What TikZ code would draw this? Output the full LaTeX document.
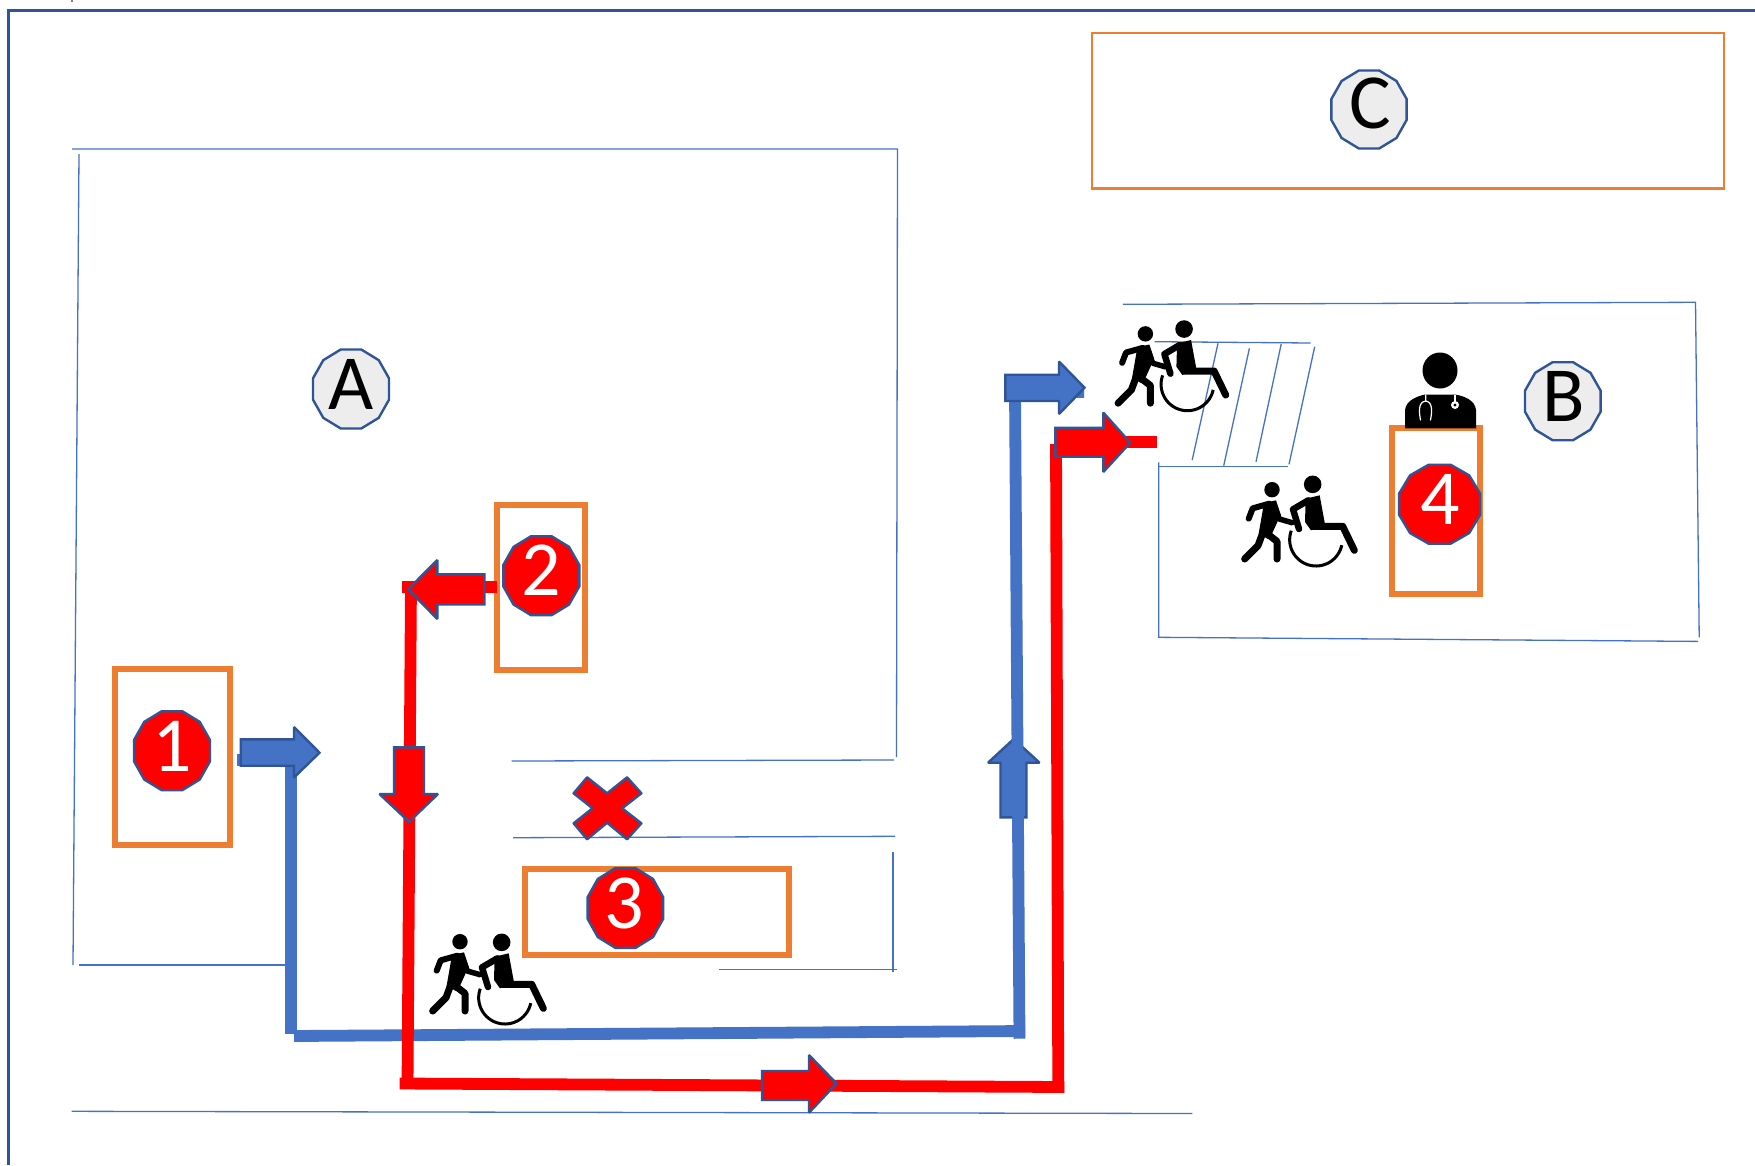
\documentclass[tikz,border=0pt]{standalone}
\usepackage{fontspec}
\setmainfont{Carlito}
\definecolor{lineblue}{HTML}{4472C4}
\definecolor{edgeblue}{HTML}{2F5597}
\definecolor{boxorange}{HTML}{ED7D31}
\definecolor{badgegray}{HTML}{EDEDED}
\definecolor{routered}{HTML}{FF0000}
\newcommand{\badgeshape}[5]{% x y rx ry style
  \draw[#5] ({#1-.27*#3},{#2-#4}) -- ({#1+.27*#3},{#2-#4}) -- ({#1+.73*#3},{#2-.73*#4}) -- ({#1+#3},{#2-.27*#4}) --
  ({#1+#3},{#2+.27*#4}) -- ({#1+.73*#3},{#2+.73*#4}) -- ({#1+.27*#3},{#2+#4}) -- ({#1-.27*#3},{#2+#4}) --
  ({#1-.73*#3},{#2+.73*#4}) -- ({#1-#3},{#2+.27*#4}) -- ({#1-#3},{#2-.27*#4}) -- ({#1-.73*#3},{#2-.73*#4}) -- cycle;}
\tikzset{
  wallline/.style={draw=lineblue,line width=1.3pt},
  frameline/.style={draw=edgeblue,line width=3pt},
  orangebox/.style={draw=boxorange,line width=6pt},
  thinorange/.style={draw=boxorange,line width=2.6pt},
  redroute/.style={draw=routered,line width=11.8pt},
  blueroute/.style={draw=lineblue,line width=11.8pt},
  redarrow/.style={fill=routered,draw=edgeblue,line width=2.4pt,line join=miter,miter limit=2},
  bluearrow/.style={fill=lineblue,draw=edgeblue,line width=2.4pt,line join=miter,miter limit=2},
  redbadge/.style={fill=routered,draw=edgeblue,line width=2.4pt},
  graybadge/.style={fill=badgegray,draw=edgeblue,line width=2.4pt},
  badgetext/.style={inner sep=0pt,font=\fontsize{78}{78}\selectfont},
  walkerfig/.pic={
    \begin{scope}[x=.33333pt,y=-.33333pt,line cap=round,line join=round,draw=black,fill=black]
      \fill (120,50) circle [radius=7.7pt];
      \fill (96,90) -- (132,82) -- (146,125) -- (122,178) -- (108,198) -- (80,182) -- cycle;
      \draw[line width=6pt] (112,92) -- (62,106) -- (50,137);
      \draw[line width=5.5pt] (128,100) -- (142,138) -- (180,149);
      \draw[line width=7pt] (95,172) -- (78,218) -- (38,258);
      \draw[line width=7pt] (100,178) -- (135,205) -- (135,258);
    \end{scope}
  },
  chairfig/.pic={
    \begin{scope}[x=.33333pt,y=-.33333pt,line cap=round,line join=round,draw=black,fill=black]
      \fill (245,52) circle [radius=8.8pt];
      \fill (224,95) -- (266,85) -- (282,172) -- (240,190) -- (222,165) -- cycle;
      \draw[line width=6.5pt] (232,100) -- (186,127) -- (204,186);
      \draw[line width=7pt] (245,178) -- (335,178) -- (370,250);
      \draw[line width=3pt,line cap=butt] plot[domain=12:200,samples=40] ({255+79*cos(\x)},{218+79*sin(\x)});
    \end{scope}
  }
}
\begin{document}
\begin{tikzpicture}[x=1pt,y=-1pt]
\useasboundingbox (0,0) rectangle (1755,1165);
\fill[white] (0,0) rectangle (1755,1165);
% stray mark and frame
\fill[gray] (71,0) rectangle (73,1.5);
\coordinate (fa) at (1755,10); \coordinate (fb) at (8.3,10); \coordinate (fc) at (8.3,1165);
\draw[frameline] (fa) -- (fb) -- (fc);
% room A walls
\draw[wallline] (72,149) -- (897.5,149) -- (896.5,757);
\draw[wallline] (79,154) -- (73,965);
\draw[wallline] (79,965) -- (286,965);
\draw[wallline] (511.5,761) -- (894,760);
\draw[wallline] (513,837.7) -- (895,836.3);
\draw[wallline] (893,851.7) -- (893,972);
\draw[wallline] (719,969.3) -- (897,969.3);
\draw[wallline] (71.6,1111.3) -- (1192.3,1113.5);
% room B walls
\draw[wallline] (1122.9,304.3) -- (1695.5,302.3) -- (1699.2,637.3);
\draw[wallline] (1158.8,462.3) -- (1158.8,637.3) -- (1698,641.4);
\draw[wallline] (1157.6,466.3) -- (1288,466.3);
\draw[wallline] (1154.7,341.7) -- (1310.6,343);
\draw[wallline] (1218,343.3) -- (1192.2,460);
\draw[wallline] (1249.4,348.3) -- (1223.7,465.7);
\draw[wallline] (1281.2,344) -- (1256,461.7);
\draw[wallline] (1314.7,346.7) -- (1289,464.3);
% orange boxes
\draw[thinorange] (1092,33) rectangle (1724,188.5);
\draw[orangebox] (114.7,668.7) rectangle (229.7,845);
\draw[orangebox] (497.3,504.7) rectangle (584.7,670.3);
\draw[orangebox] (525,868.7) rectangle (789,955);
\draw[orangebox] (1391.7,428.4) rectangle (1480,594);
% blue up arrow lies under its route
\draw[bluearrow] (1000.5,817.3) -- (1000.5,762.7) -- (988,762.7) -- (1013.7,739) -- (1039.5,762.7) -- (1026.5,762.7) -- (1026.5,817.3) -- cycle;
% blue route
\coordinate (b0) at (237.3,760); \coordinate (b1) at (291,760); \coordinate (b2) at (291,1033.5);
\coordinate (b3) at (294,1036); \coordinate (b4) at (1025,1031);
\coordinate (b5) at (1019.5,1038.7); \coordinate (b6) at (1015,392); \coordinate (b7) at (1084,392);
\draw[blueroute,line cap=butt] (b0) -- (b1);
\draw[blueroute,line cap=butt] (291,754) -- (b2);
\draw[blueroute,line cap=butt] (b3) -- (b4);
\draw[blueroute,line cap=butt] (b5) -- (b6) -- (b7);
% red route
\coordinate (r0) at (497,587); \coordinate (r1) at (402,587); \coordinate (r2) at (411,582);
\coordinate (r3) at (407.5,1087); \coordinate (r4) at (399.6,1083.5); \coordinate (r5) at (1064.3,1087);
\coordinate (r6) at (1058.3,1092.7); \coordinate (r7) at (1056,444); \coordinate (r9) at (1156.7,442.3); \coordinate (r8) at (1056,442.3);
\draw[redroute] (r0) -- (r1);
\draw[redroute] (r2) -- (r3);
\draw[redroute] (r4) -- (r5);
\draw[redroute] (r6) -- (r7);
\draw[redroute] (r8) -- (r9);
% block arrows
\draw[bluearrow] (240.7,739.3) -- (294,739.3) -- (294,727) -- (319.5,752.7) -- (294,777.5) -- (294,765.7) -- (240.7,765.7) -- cycle;
\draw[bluearrow] (1005.3,374.7) -- (1059,374.7) -- (1059,361.5) -- (1084.5,387.7) -- (1059,414) -- (1059,401) -- (1005.3,401) -- cycle;
\draw[redarrow] (1055.3,427.7) -- (1103.3,427.7) -- (1103.3,412.5) -- (1130.2,442.7) -- (1103.3,472) -- (1103.3,456.7) -- (1055.3,456.7) -- cycle;
\draw[redarrow] (484.3,574.3) -- (437.3,574.3) -- (437.3,560) -- (408.2,589.3) -- (437.3,619) -- (437.3,604.3) -- (484.3,604.3) -- cycle;
\draw[redarrow] (394,747.3) -- (424,747.3) -- (424,794) -- (438,794) -- (409,821.8) -- (379.5,794) -- (394,794) -- cycle;
\draw[redarrow] (762,1071) -- (809,1071) -- (809,1055) -- (836.5,1083.5) -- (809,1112.7) -- (809,1100) -- (762,1100) -- cycle;
% forbidden cross
\draw[redarrow,line join=round] (587.1,777.3) -- (607.1,793.3) -- (627.1,777.3) -- (641.4,793.3) -- (622.1,808.3) -- (641.4,823.3) -- (627.1,839.3) -- (607.1,822.7) -- (587.1,839.3) -- (573.6,823.3) -- (592.5,808.3) -- (573.6,793.3) -- cycle;
% badges
\badgeshape{172}{750.7}{38}{39.5}{redbadge}
\node[badgetext,white] (n1) at (172,746.5) {1};
\badgeshape{541.3}{575.7}{38}{39.5}{redbadge}
\node[badgetext,white] (n2) at (541.3,570.5) {2};
\badgeshape{625.4}{908}{37.8}{39.8}{redbadge}
\node[badgetext,white] (n3) at (624.5,903.2) {3};
\badgeshape{1439.6}{504.2}{40.5}{39.5}{redbadge}
\node[badgetext,white] (n4) at (1440.5,499.8) {4};
\badgeshape{351}{389}{38}{39.5}{graybadge}
\node[badgetext] (a) at (351,384) {A};
\badgeshape{1562.8}{401.2}{37.8}{39}{graybadge}
\node[badgetext] (b) at (1564,396.5) {B};
\badgeshape{1369}{109.5}{37.6}{39}{graybadge}
\node[badgetext] (c) at (1370,103.5) {C};
% carer icons
\pic at (420,925) {walkerfig};
\pic at (420,925) {chairfig};
\pic at (1105.4,317.2) {walkerfig};
\pic at (1102.4,311.7) {chairfig};
\pic at (1232,473) {walkerfig};
\pic at (1231,467) {chairfig};
% doctor
\fill (1440,370.5) circle [x radius=17.5pt,y radius=18pt];
\fill (1405,428.3) -- (1405,410) .. controls (1406,400) and (1418,396) .. (1425,394.5) -- (1455,394.5) .. controls (1464,396) and (1475,400) .. (1476,410) -- (1476,428.3) -- cycle;
\draw[white,line width=1.2pt,line cap=round] (1425.7,395) -- (1425.7,401) .. controls (1418,402) and (1419,412) .. (1420.5,420);
\draw[white,line width=1.2pt,line cap=round] (1425.7,401) .. controls (1433,402) and (1432,412) .. (1430.5,420);
\draw[white,line width=1.2pt] (1455,395) -- (1455,402);
\fill[white] (1455,405) circle [radius=4pt];
\fill[black] (1455,405) circle [radius=1.6pt];
\end{tikzpicture}
\end{document}
